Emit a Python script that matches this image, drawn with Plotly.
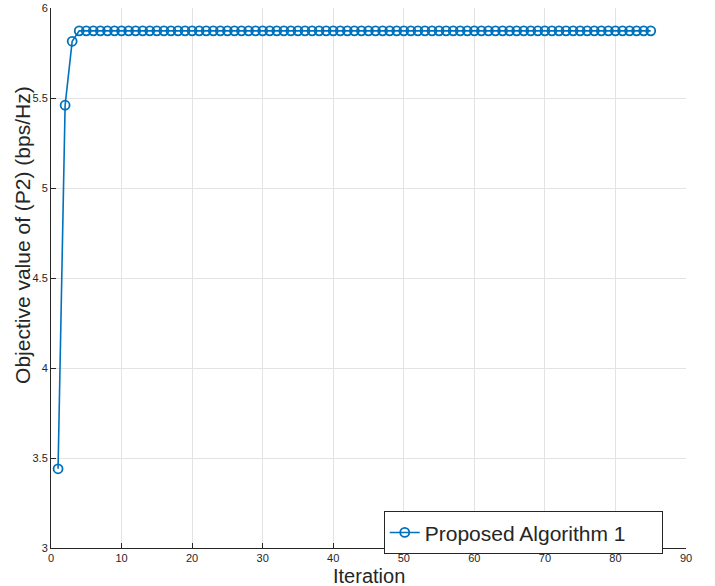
import plotly.graph_objects as go

iterations = list(range(1, 86))
objective = [3.44, 5.46, 5.815] + [5.873] * 82

x_ticks = [0, 10, 20, 30, 40, 50, 60, 70, 80, 90]
y_ticks = [3, 3.5, 4, 4.5, 5, 5.5, 6]
y_tick_text = ["3", "3.5", "4", "4.5", "5", "5.5", "6"]

blue = "#0072BD"
fig = go.Figure()
fig.add_trace(go.Scatter(
    x=iterations, y=objective, mode="lines+markers",
    name="Proposed Algorithm 1",
    line=dict(color=blue, width=1.6),
    marker=dict(symbol="circle-open", size=9, color=blue, line=dict(width=1.8, color=blue)),
))

axis_common = dict(
    showgrid=True, gridcolor="#e3e3e3", gridwidth=1,
    showline=True, linecolor="#262626", linewidth=1,
    ticks="inside", ticklen=5, tickcolor="#262626",
    tickfont=dict(family="Liberation Sans, Arial", size=11, color="#262626"),
    zeroline=False, mirror=False,
)
fig.update_xaxes(range=[0, 90], tickvals=x_ticks, **axis_common)
fig.update_yaxes(range=[3, 6], tickvals=y_ticks, ticktext=y_tick_text, **axis_common)

fig.update_layout(
    width=715, height=586,
    margin=dict(l=51, r=29, t=8, b=38, autoexpand=False),
    paper_bgcolor="white", plot_bgcolor="white",
    font=dict(family="Liberation Sans, Arial", color="#262626"),
    showlegend=True,
    legend=dict(
        x=0.524, y=0.068, xanchor="left", yanchor="top",
        orientation="h", entrywidth=232, entrywidthmode="pixels",
        bgcolor="white", bordercolor="#262626", borderwidth=1,
        font=dict(family="Liberation Sans, Arial", size=21, color="#262626"),
    ),
    annotations=[
        dict(text="Iteration", xref="paper", yref="paper", x=0.5, y=-0.052,
             xanchor="center", yanchor="middle", showarrow=False,
             font=dict(family="Liberation Sans, Arial", size=20, color="#262626")),
        dict(text="Objective value of (P2) (bps/Hz)", xref="paper", yref="paper",
             x=(22 - 51) / 634, y=(548 - 235) / 540, xanchor="center", yanchor="middle",
             textangle=-90, showarrow=False,
             font=dict(family="Liberation Sans, Arial", size=21, color="#262626")),
    ],
)

fig.write_html("out.html")
